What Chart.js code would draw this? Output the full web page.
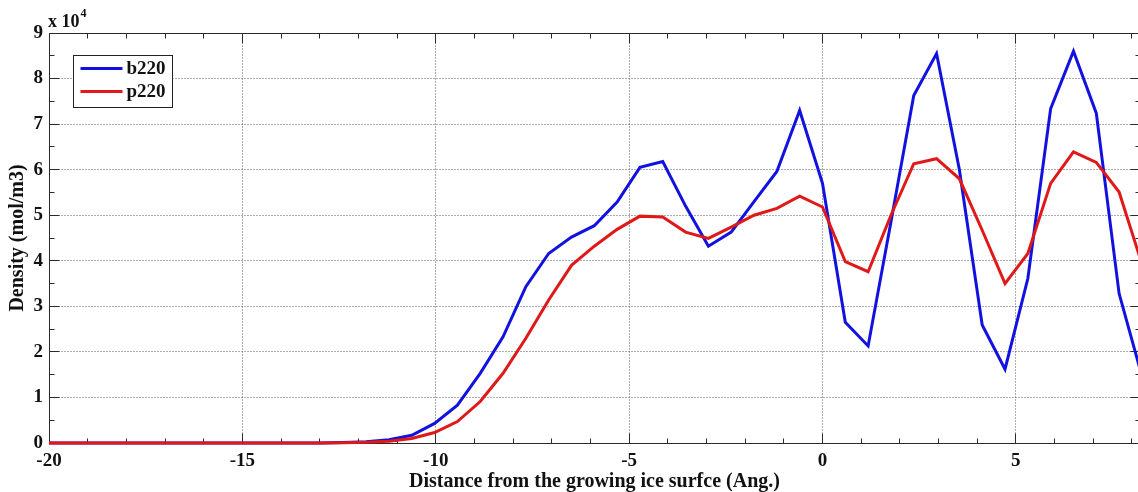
<!DOCTYPE html>
<html>
<head>
<meta charset="utf-8">
<script src="https://cdn.jsdelivr.net/npm/chart.js@4.4.1/dist/chart.umd.min.js"></script>
<style>
  html, body { margin: 0; padding: 0; background: #fff; overflow: hidden; }
  #wrap { width: 1142px; height: 492px; }
</style>
</head>
<body>
<div id="wrap"><canvas id="c" width="1142" height="492"></canvas></div>
<script>
// Distance from the growing ice surface (Ang.)
const distance = [
  -20.06, -19.47, -18.88, -18.29, -17.70, -17.11, -16.52, -15.93, -15.34, -14.75,
  -14.16, -13.57, -12.98, -12.39, -11.80, -11.21, -10.62, -10.03, -9.44, -8.85,
  -8.26, -7.67, -7.08, -6.49, -5.90, -5.31, -4.72, -4.13, -3.54, -2.95,
  -2.36, -1.77, -1.18, -0.59, 0.00, 0.59, 1.18, 1.77, 2.36, 2.95,
  3.54, 4.13, 4.72, 5.31, 5.90, 6.49, 7.08, 7.67, 8.26
];
// Density, in units of 10^4 mol/m3
const b220 = [
  0, 0, 0, 0, 0, 0, 0, 0, 0, 0,
  0, 0, 0, 0.01, 0.03, 0.07, 0.17, 0.43, 0.83, 1.53,
  2.33, 3.43, 4.16, 4.52, 4.77, 5.29, 6.05, 6.18, 5.20, 4.32,
  4.63, 5.30, 5.96, 7.30, 5.70, 2.65, 2.13, 4.85, 7.63, 8.55,
  6.00, 2.59, 1.62, 3.61, 7.34, 8.60, 7.24, 3.28, 1.47
];
const p220 = [
  0, 0, 0, 0, 0, 0, 0, 0, 0, 0,
  0, 0, 0, 0.005, 0.015, 0.04, 0.10, 0.23, 0.47, 0.91,
  1.53, 2.30, 3.14, 3.90, 4.32, 4.69, 4.98, 4.96, 4.63, 4.49,
  4.74, 5.00, 5.15, 5.42, 5.18, 3.98, 3.76, 5.00, 6.13, 6.24,
  5.80, 4.67, 3.50, 4.16, 5.70, 6.39, 6.16, 5.51, 3.93
];
const xTicks = [-20, -15, -10, -5, 0, 5];
const yTicks = [0, 1, 2, 3, 4, 5, 6, 7, 8, 9];

const SERIF = '"Liberation Serif", "Times New Roman", Times, serif';
const INK = '#111';
const AXIS = '#2a2a2a';
const BLUE = '#1212e0';
const RED = '#e01818';

function toPoints(xs, ys) {
  return xs.map((x, i) => ({ x: x, y: ys[i] }));
}

// Boxed axes with dotted grid, inward major/minor ticks, multiplier and legend
const framePlugin = {
  id: 'frame',
  beforeDatasetsDraw(chart) {
    const { ctx, chartArea: a, scales: { x, y } } = chart;
    const L = Math.floor(a.left) + 0.5, R = Math.floor(a.right) + 0.5;
    const T = Math.floor(a.top) + 0.5, B = Math.floor(a.bottom) + 0.5;
    ctx.save();
    ctx.lineWidth = 1;

    // dotted grid at major ticks
    ctx.strokeStyle = '#5a5a5a';
    ctx.setLineDash([1, 2]);
    ctx.beginPath();
    xTicks.forEach(v => {
      const px = Math.floor(x.getPixelForValue(v)) + 0.5;
      if (px > L + 1 && px < R - 1) { ctx.moveTo(px, T); ctx.lineTo(px, B); }
    });
    yTicks.forEach(v => {
      const py = Math.floor(y.getPixelForValue(v)) + 0.5;
      if (py > T + 1 && py < B - 1) { ctx.moveTo(L, py); ctx.lineTo(R, py); }
    });
    ctx.stroke();
    ctx.setLineDash([]);

    // axis box
    ctx.strokeStyle = AXIS;
    ctx.beginPath();
    ctx.moveTo(L, T); ctx.lineTo(R, T); ctx.lineTo(R, B); ctx.lineTo(L, B); ctx.closePath();
    ctx.stroke();

    // inward ticks on all four sides
    const MAJOR = 10, MINOR = 5;
    ctx.beginPath();
    for (let v = Math.ceil(x.min); v <= x.max; v += 1) {
      const len = xTicks.includes(v) ? MAJOR : MINOR;
      const px = Math.floor(x.getPixelForValue(v)) + 0.5;
      ctx.moveTo(px, B); ctx.lineTo(px, B - len);
      ctx.moveTo(px, T); ctx.lineTo(px, T + len);
    }
    for (let v = y.min; v <= y.max + 1e-9; v += 0.5) {
      const len = yTicks.includes(v) ? MAJOR : MINOR;
      const py = Math.floor(y.getPixelForValue(v)) + 0.5;
      ctx.moveTo(L, py); ctx.lineTo(L + len, py);
      ctx.moveTo(R, py); ctx.lineTo(R - len, py);
    }
    ctx.stroke();
    ctx.restore();
  },
  afterDraw(chart) {
    const { ctx, chartArea: a } = chart;
    ctx.save();

    // axis multiplier
    ctx.fillStyle = INK;
    ctx.textBaseline = 'alphabetic';
    ctx.textAlign = 'left';
    ctx.font = 'bold 18px ' + SERIF;
    ctx.fillText('x 10', a.left - 1, a.top - 6);
    const w = ctx.measureText('x 10').width;
    ctx.font = 'bold 12px ' + SERIF;
    ctx.fillText('4', a.left - 1 + w + 1, a.top - 16);

    // legend
    const bx = Math.floor(a.left) + 24.5, by = Math.floor(a.top) + 22.5;
    const bw = 99, bh = 52;
    ctx.fillStyle = '#fff';
    ctx.fillRect(bx, by, bw, bh);
    ctx.strokeStyle = '#222';
    ctx.lineWidth = 1;
    ctx.strokeRect(bx, by, bw, bh);
    ctx.font = 'bold 19px ' + SERIF;
    ctx.textBaseline = 'middle';
    chart.data.datasets.forEach((ds, i) => {
      const ly = by + 13 + i * 23;
      ctx.strokeStyle = ds.borderColor;
      ctx.lineWidth = 3;
      ctx.beginPath();
      ctx.moveTo(bx + 7, ly);
      ctx.lineTo(bx + 49, ly);
      ctx.stroke();
      ctx.fillStyle = INK;
      ctx.fillText(ds.label, bx + 53, ly + 1);
    });
    ctx.restore();
  }
};

const tickFont = { family: SERIF, weight: 'bold', size: 19 };
const titleFont = { family: SERIF, weight: 'bold', size: 20, lineHeight: 1 };

new Chart(document.getElementById('c'), {
  type: 'line',
  data: {
    datasets: [
      {
        label: 'b220',
        data: toPoints(distance, b220),
        borderColor: BLUE,
        borderWidth: 3,
        pointRadius: 0,
        tension: 0,
        fill: false,
        order: 1,
        clip: { left: 0, right: 0, top: 4, bottom: 4 }
      },
      {
        label: 'p220',
        data: toPoints(distance, p220),
        borderColor: RED,
        borderWidth: 3,
        pointRadius: 0,
        tension: 0,
        fill: false,
        order: 0,
        clip: { left: 0, right: 0, top: 4, bottom: 4 }
      }
    ]
  },
  options: {
    responsive: false,
    animation: false,
    devicePixelRatio: 1,
    layout: { padding: { top: 33, right: 2, left: 0, bottom: 0 } },
    plugins: { legend: { display: false }, tooltip: { enabled: false } },
    scales: {
      x: {
        type: 'linear',
        position: 'bottom',
        min: -20,
        max: 8.21,
        afterBuildTicks: s => { s.ticks = xTicks.map(v => ({ value: v })); },
        afterFit: s => { s.height = 49; },
        grid: { display: false, drawTicks: false },
        border: { display: false },
        ticks: { font: tickFont, color: INK, padding: 7, maxRotation: 0, autoSkip: false },
        title: {
          display: true,
          text: 'Distance from the growing ice surfce (Ang.)',
          font: titleFont,
          color: INK,
          padding: { top: 0, bottom: 0 }
        }
      },
      y: {
        type: 'linear',
        min: 0,
        max: 9,
        afterBuildTicks: s => { s.ticks = yTicks.map(v => ({ value: v })); },
        afterFit: s => { s.width = 49; },
        grid: { display: false, drawTicks: false },
        border: { display: false },
        ticks: { font: tickFont, color: INK, padding: 6, autoSkip: false },
        title: {
          display: true,
          text: 'Density (mol/m3)',
          font: titleFont,
          color: INK,
          padding: { top: 8, bottom: 0 }
        }
      }
    }
  },
  plugins: [framePlugin]
});
</script>
</body>
</html>
